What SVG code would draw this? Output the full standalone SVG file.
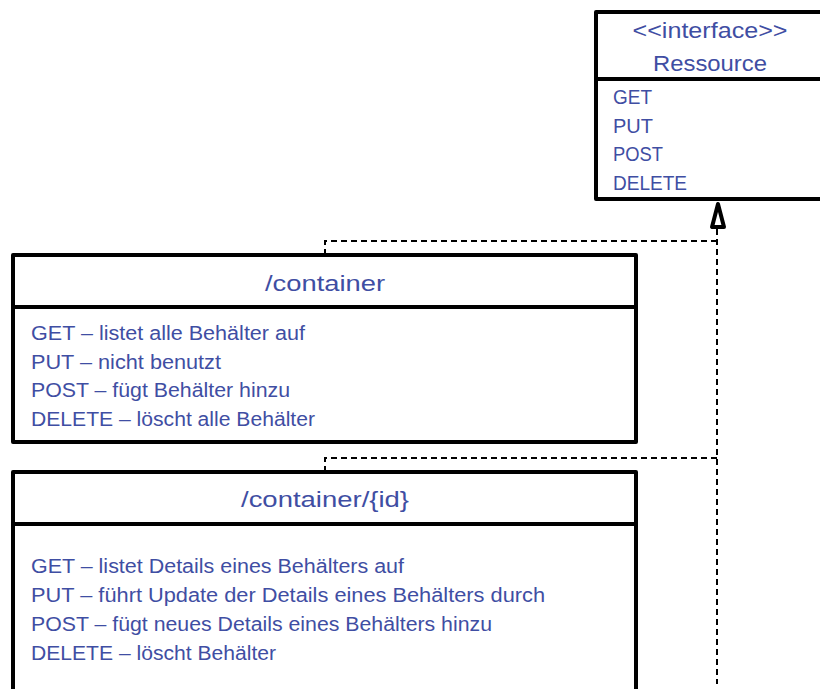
<svg xmlns="http://www.w3.org/2000/svg" width="820" height="689" viewBox="0 0 820 689">
<style>
.box{fill:#fff;stroke:#000;stroke-width:4;stroke-linejoin:round}
.div{stroke:#000;stroke-width:4}
.t{font-family:"Liberation Sans","Open Sans",sans-serif;font-size:20px;fill:#3f4ea3}
.h{font-family:"Liberation Sans","Open Sans",sans-serif;font-size:22px;fill:#3f4ea3;text-anchor:middle}
.dash{fill:none;stroke:#000;stroke-width:2;stroke-dasharray:6,4}
</style>
<rect width="820" height="689" fill="#fff"/>
<g id="connectors">
<polyline class="dash" points="325,255 325,241 717,241"/>
<polyline class="dash" points="325,472 325,458 717,458"/>
<line class="dash" x1="717" y1="229" x2="717" y2="684"/>
<polygon points="718,204 712,227 724,227" fill="#fff" stroke="#000" stroke-width="4" stroke-linejoin="round"/>
</g>
<g id="ressource">
<rect class="box" x="596" y="12" width="240" height="187"/>
<line class="div" x1="596" y1="79" x2="820" y2="79"/>
<text class="h" x="710" y="38" textLength="155" lengthAdjust="spacingAndGlyphs">&lt;&lt;interface&gt;&gt;</text>
<text class="h" x="710" y="71" textLength="114" lengthAdjust="spacingAndGlyphs">Ressource</text>
<text class="t" x="613" y="104" textLength="39" lengthAdjust="spacingAndGlyphs">GET</text>
<text class="t" x="613" y="133" textLength="40" lengthAdjust="spacingAndGlyphs">PUT</text>
<text class="t" x="613" y="161" textLength="50" lengthAdjust="spacingAndGlyphs">POST</text>
<text class="t" x="613" y="190" textLength="74" lengthAdjust="spacingAndGlyphs">DELETE</text>
</g>
<g id="container">
<rect class="box" x="13" y="255" width="623" height="187"/>
<line class="div" x1="13" y1="307" x2="636" y2="307"/>
<text class="h" x="325" y="291" textLength="120" lengthAdjust="spacingAndGlyphs">/container</text>
<text class="t" x="31" y="340" textLength="274" lengthAdjust="spacingAndGlyphs">GET – listet alle Behälter auf</text>
<text class="t" x="31" y="369" textLength="190" lengthAdjust="spacingAndGlyphs">PUT – nicht benutzt</text>
<text class="t" x="31" y="397" textLength="259" lengthAdjust="spacingAndGlyphs">POST – fügt Behälter hinzu</text>
<text class="t" x="31" y="426" textLength="284" lengthAdjust="spacingAndGlyphs">DELETE – löscht alle Behälter</text>
</g>
<g id="container-id">
<rect class="box" x="13" y="472" width="623" height="240"/>
<line class="div" x1="13" y1="524" x2="636" y2="524"/>
<text class="h" x="325" y="507" textLength="168" lengthAdjust="spacingAndGlyphs">/container/{id}</text>
<text class="t" x="31" y="573" textLength="373" lengthAdjust="spacingAndGlyphs">GET – listet Details eines Behälters auf</text>
<text class="t" x="31" y="602" textLength="514" lengthAdjust="spacingAndGlyphs">PUT – führt Update der Details eines Behälters durch</text>
<text class="t" x="31" y="631" textLength="461" lengthAdjust="spacingAndGlyphs">POST – fügt neues Details eines Behälters hinzu</text>
<text class="t" x="31" y="660" textLength="245" lengthAdjust="spacingAndGlyphs">DELETE – löscht Behälter</text>
</g>
</svg>
